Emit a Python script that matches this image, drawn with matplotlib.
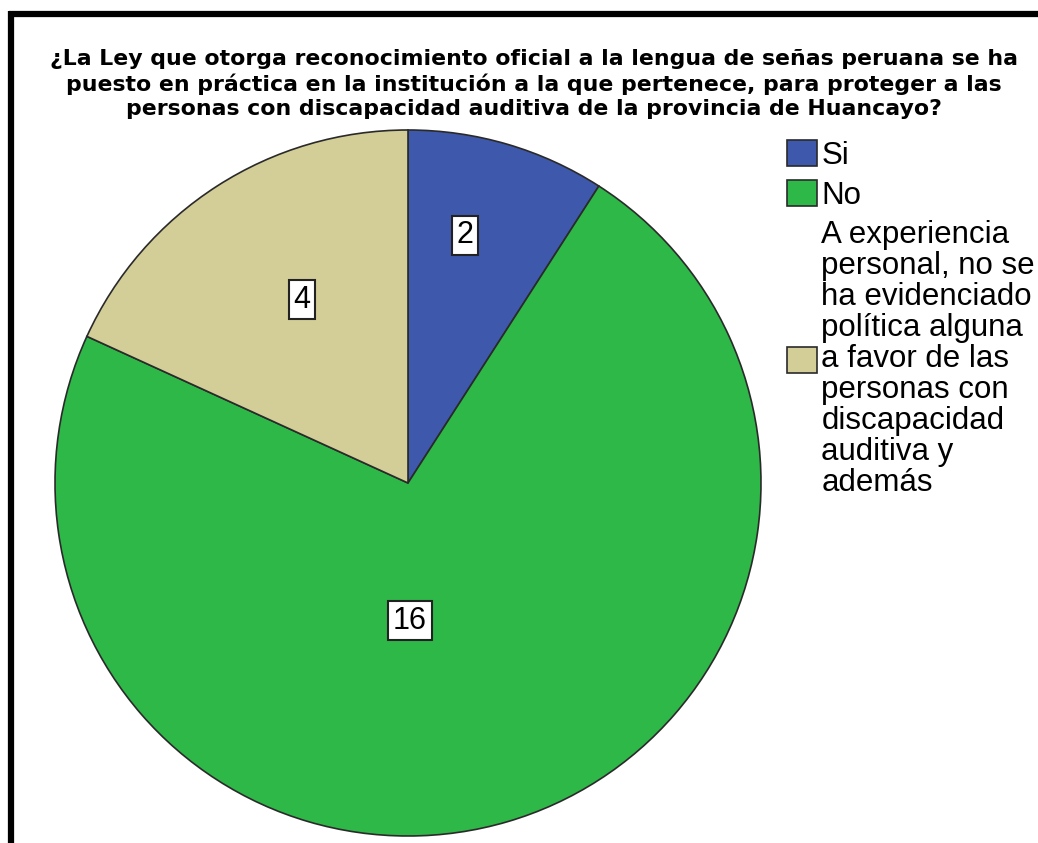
import matplotlib
matplotlib.use("Agg")
import numpy as np
import matplotlib.pyplot as plt
from matplotlib.lines import Line2D

plt.rcParams['font.family'] = ['Liberation Sans', 'DejaVu Sans']

# data
categories = ["Si", "No",
              "A experiencia\npersonal, no se\nha evidenciado\npolítica alguna\na favor de las\npersonas con\ndiscapacidad\nauditiva y\nademás"]
counts = [2, 16, 4]
title = ("¿La Ley que otorga reconocimiento oficial a la lengua de señas peruana se ha\n"
         "puesto en práctica en la institución a la que pertenece, para proteger a las\n"
         "personas con discapacidad auditiva de la provincia de Huancayo?")

colors = ["#3E58AC", "#2EB848", "#D3CE97"]
# label placement (fraction of radius, angle shift from wedge middle in degrees)
label_pos = [(0.72, 3.5), (0.39, -15.5), (0.60, -2.7)]

W, H = 1038, 843
fig = plt.figure(figsize=(W / 100, H / 100), dpi=100)

# pie axes: centre (408, 483), radius 353 px
cx, cy, r = 408, 483, 353
ax = fig.add_axes([(cx - r) / W, (H - cy - r) / H, 2 * r / W, 2 * r / H])
wedges, _ = ax.pie(counts, colors=colors, startangle=90, counterclock=False,
                   radius=1, wedgeprops=dict(edgecolor="#2a2a2a", linewidth=1.2))
ax.set_xlim(-1, 1)
ax.set_ylim(-1, 1)
ax.set_aspect("auto")
ax.axis("off")

for w, n, (fr, shift) in zip(wedges, counts, label_pos):
    mid = np.deg2rad((w.theta1 + w.theta2) / 2 + shift)
    ax.text(fr * np.cos(mid), fr * np.sin(mid), str(n), ha="center", va="center",
            fontsize=22,
            bbox=dict(boxstyle="square,pad=0.15", facecolor="white",
                      edgecolor="#222222", linewidth=1.5))

fig.text(534 / W, 1 - 49 / H, title, ha="center", va="top", fontsize=15.8,
         fontweight="bold", family="DejaVu Sans", linespacing=1.25)

leg = ax.legend(wedges, categories, loc="upper left",
                bbox_to_anchor=(787 / W, 1 - 140 / H), bbox_transform=fig.transFigure,
                frameon=False, fontsize=22.5, handlelength=0.95, handleheight=0.9,
                handletextpad=0.15, labelspacing=0.3, borderpad=0, borderaxespad=0)
for t in leg.get_texts():
    t.set_linespacing(1.04)

# frame lines (top and left, as in the cropped image)
fig.add_artist(Line2D([8.5 / W, 1.0], [1 - 14 / H] * 2, color="black", lw=4.5,
                      solid_capstyle="butt", transform=fig.transFigure))
fig.add_artist(Line2D([11 / W] * 2, [1 - 11 / H, 0], color="black", lw=4.5,
                      solid_capstyle="butt", transform=fig.transFigure))

fig.savefig("out.png", dpi=100)
